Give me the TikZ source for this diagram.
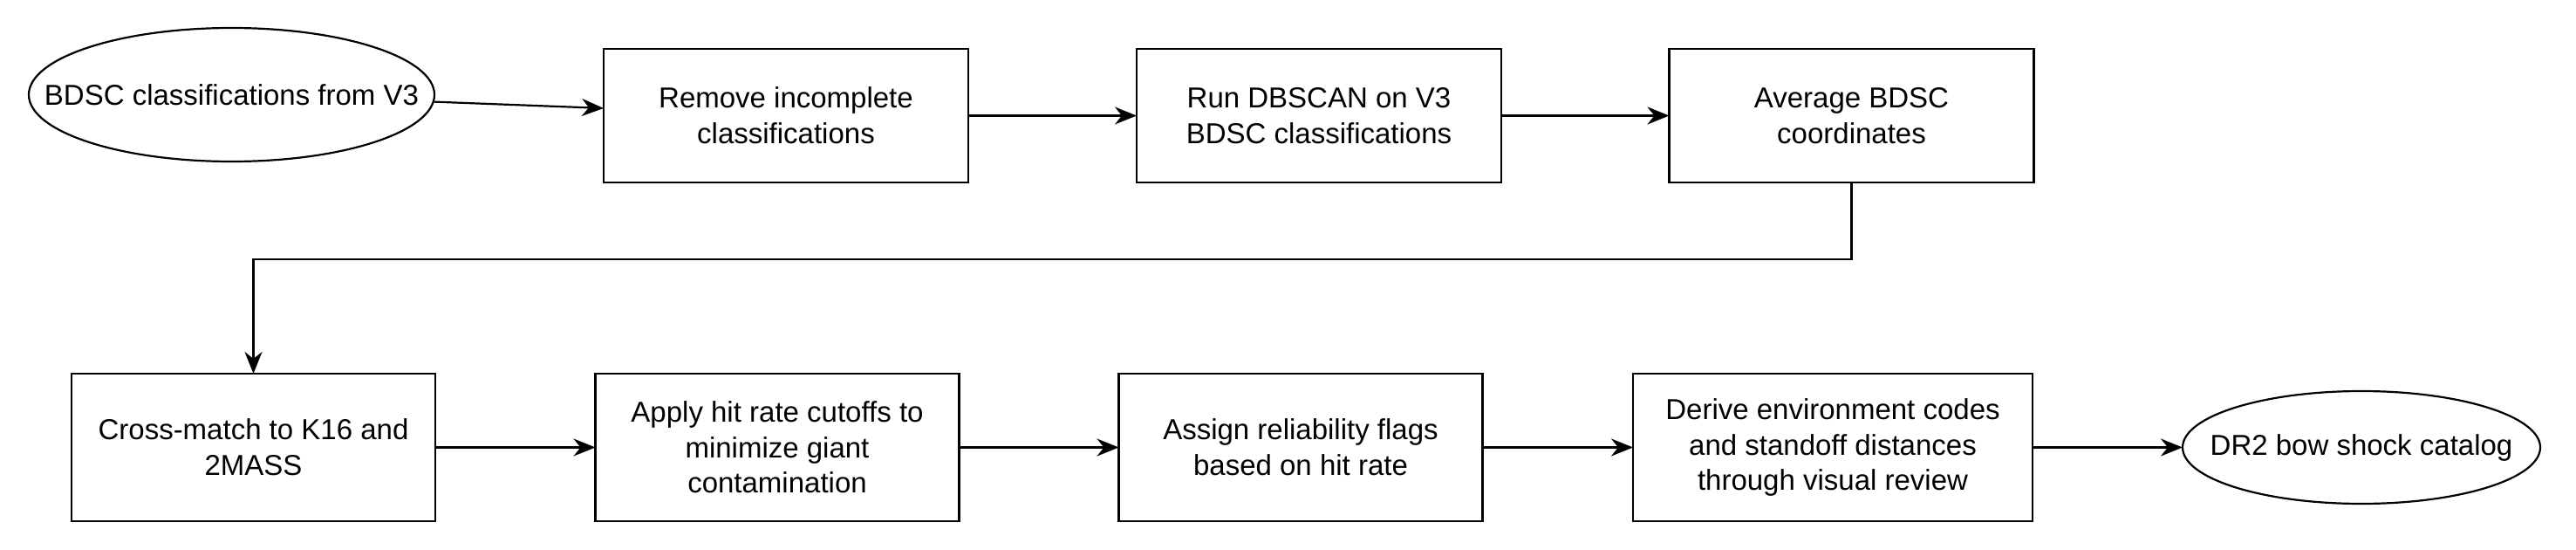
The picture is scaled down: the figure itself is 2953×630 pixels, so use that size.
\documentclass[tikz,border=0pt]{standalone}
\usepackage{fontspec}
\setmainfont{Liberation Sans}
\usetikzlibrary{arrows.meta,shapes.geometric}
\tikzset{
  base/.style={draw=black, line width=1.1pt, inner sep=0pt, outer sep=0pt, align=center,
    font=\fontsize{16.5pt}{20.3pt}\selectfont},
  topbox/.style={base, rectangle, minimum width=209pt, minimum height=76.5pt},
  lowbox/.style={base, rectangle, minimum width=208.5pt, minimum height=84.5pt},
  oval/.style={base, ellipse},
  arr/.style={draw=black, line width=1.1pt, -{Stealth[length=12.5pt, width=10pt, inset=4pt]}}
}
\begin{document}
\begin{tikzpicture}[x=0.5pt, y=-0.5pt]
\useasboundingbox (0,0) rectangle (2953,630);
\node[oval, minimum width=232.5pt, minimum height=76.5pt] (e1) at (265.5,108.5) {\makebox[0pt]{BDSC classifications from V3}};
\node[topbox] (b1) at (901,132.5) {Remove incomplete\\classifications};
\node[topbox] (b2) at (1512,132.5) {Run DBSCAN on V3\\BDSC classifications};
\node[topbox] (b3) at (2122.5,132.5) {Average BDSC\\coordinates};
\node[lowbox] (b4) at (290.5,512.5) {Cross-match to K16 and\\2MASS};
\node[lowbox] (b5) at (891,512.5) {Apply hit rate cutoffs to\\minimize giant\\contamination};
\node[lowbox] (b6) at (1491,512.5) {Assign reliability flags\\based on hit rate};
\node[lowbox, minimum width=229pt] (b7) at (2101,512.5) {Derive environment codes\\and standoff distances\\through visual review};
\node[oval, minimum width=205pt, minimum height=64.5pt] (e2) at (2707,512.5) {\makebox[0pt]{DR2 bow shock catalog}};
\coordinate (mid) at (0,297);
\draw[arr] (e1.-2) -- ([yshift=4.25pt]b1.west);
\draw[arr] (b1.east) -- (b2.west);
\draw[arr] (b2.east) -- (b3.west);
\draw[arr] (b3.south) |- (b4.north |- mid) -- (b4.north);
\draw[arr] (b4.east) -- (b5.west);
\draw[arr] (b5.east) -- (b6.west);
\draw[arr] (b6.east) -- (b7.west);
\draw[arr] (b7.east) -- (e2.west);
\end{tikzpicture}
\end{document}
